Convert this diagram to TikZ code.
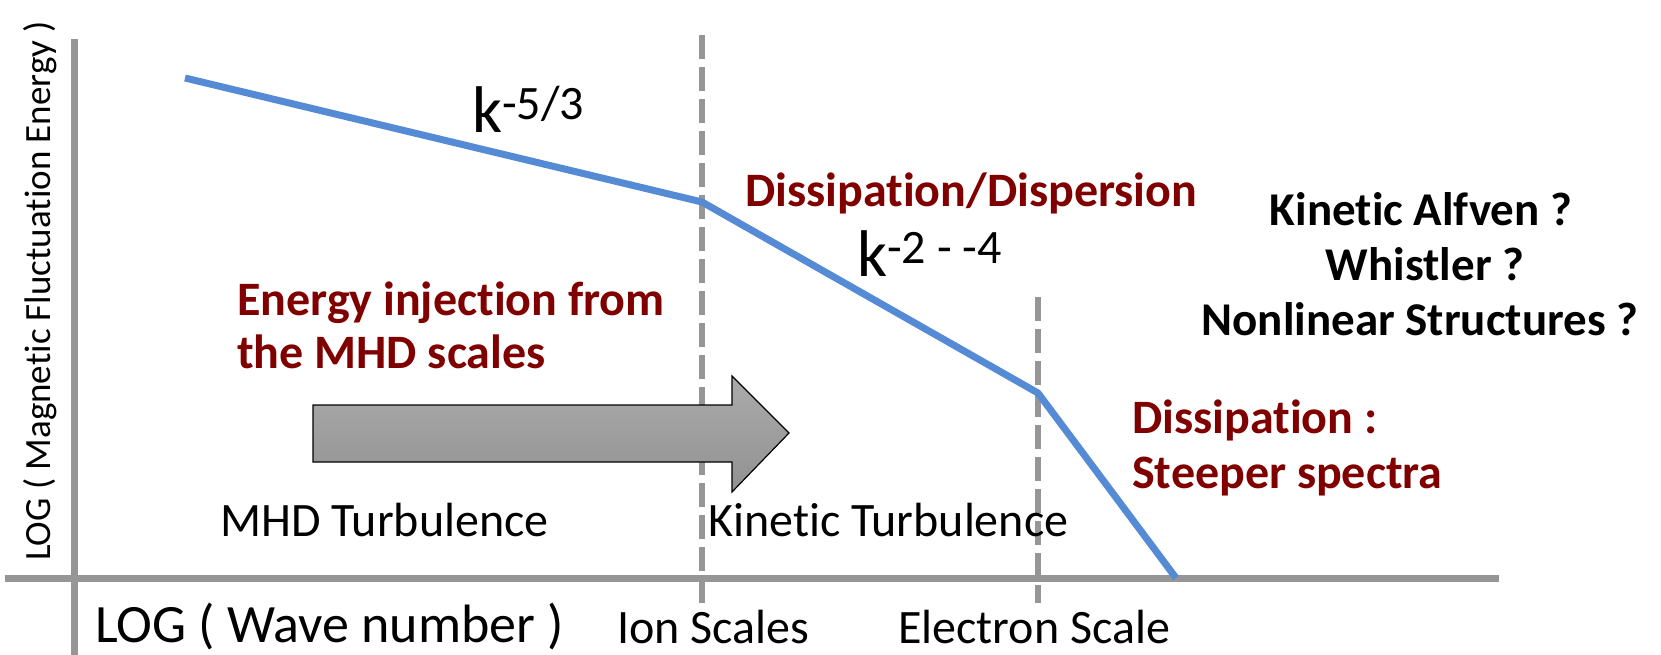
\documentclass[tikz,border=0pt]{standalone}
\usepackage{fontspec}
\setmainfont{Carlito}[Ligatures=NoCommon]
\usetikzlibrary{positioning}
\definecolor{specblue}{RGB}{85,138,212}
\definecolor{axisgray}{RGB}{150,150,150}
\definecolor{darkred}{RGB}{128,0,0}
\newcommand{\fsz}[1]{\fontsize{#1}{#1}\selectfont}

\begin{document}
\begin{tikzpicture}[x=1pt, y=-1pt,
        axis/.style={axisgray, line width=7pt},
        scaleline/.style={axisgray, line width=6pt, dash pattern=on 24pt off 8pt},
        spectrum/.style={specblue, line width=7pt, line join=round},
        note/.style={darkred, font=\fsz{48}\bfseries, inner sep=0pt},
        wave/.style={font=\fsz{47}\bfseries, inner sep=0pt},
        regime/.style={font=\fsz{48}, inner sep=0pt},
        tick/.style={font=\fsz{48}, inner sep=0pt},
        slope/.style={font=\fsz{66}, inner sep=0pt}]
    \useasboundingbox (0,0) rectangle (1661,655);
    % axes
    \coordinate (ytop) at (74,39);
    \coordinate (ybot) at (74,655);
    \coordinate (xleft) at (5,578);
    \coordinate (xright) at (1499,578);
    \draw[axis] (ybot) -- (ytop);
    \draw[axis] (xleft) -- (xright);
    % ion and electron scales
    \coordinate (iontop) at (702,35);
    \coordinate (ionbot) at (702,603);
    \coordinate (eltop) at (1038,297);
    \coordinate (elbot) at (1038,603);
    \draw[scaleline] (iontop) -- (ionbot);
    \draw[scaleline] (eltop) -- (elbot);
    % energy cascade arrow
    \shadedraw[top color=black!33, bottom color=black!43, draw=black, line width=1.2pt]
        (313,405) -- (732,405) -- (732,376) -- (789,433) -- (732,492) -- (732,462) -- (313,462) -- cycle;
    % spectrum
    \coordinate (s0) at (185,78);
    \coordinate (s1) at (702,202);
    \coordinate (s2) at (1038,393);
    \coordinate (s3) at (1176,578);
    \draw[spectrum] (s0) -- (s1) -- (s2) -- (s3);
    % slopes
    \node[slope, anchor=base west] (kmhd) at (472,133) {k\raisebox{13pt}{\fsz{48}-5/3}};
    \node[slope, anchor=base west] (kkin) at (857,276) {k\raisebox{13pt}{\fsz{48}-2 - -4}};
    % labels
    \node[note, anchor=base west] (disp) at (745,207) {Dissipation/Dispersion};
    \node[note, anchor=base west] (inj) at (237,315) {Energy injection from};
    \node[note, anchor=base west] (inj2) at (237,368) {the MHD scales};
    \node[note, anchor=base west] (diss) at (1132,433) {Dissipation :};
    \node[note, anchor=base west] (steep) at (1132,488) {Steeper spectra};
    \node[wave, anchor=base] (kaw) at (1421,225) {Kinetic Alfven ?};
    \node[wave, anchor=base] (whis) at (1425,280) {Whistler ?};
    \node[wave, anchor=base] (nlin) at (1420,335) {Nonlinear Structures ?};
    \node[regime, anchor=base west] (mhd) at (220,536) {MHD Turbulence};
    \node[regime, anchor=base west] (kin) at (708,536) {Kinetic Turbulence};
    \node[tick, anchor=base west] (ion) at (617,643) {Ion Scales};
    \node[tick, anchor=base west] (ele) at (898,643) {Electron Scale};
    \node[font=\fsz{54}, inner sep=0pt, anchor=base west] (xlab) at (95,642) {LOG ( Wave number )};
    \node[font=\fsz{37}, inner sep=0pt, anchor=base west, rotate=90] (ylab) at (50,561) {LOG ( Magnetic Fluctuation Energy )};
\end{tikzpicture}
\end{document}
